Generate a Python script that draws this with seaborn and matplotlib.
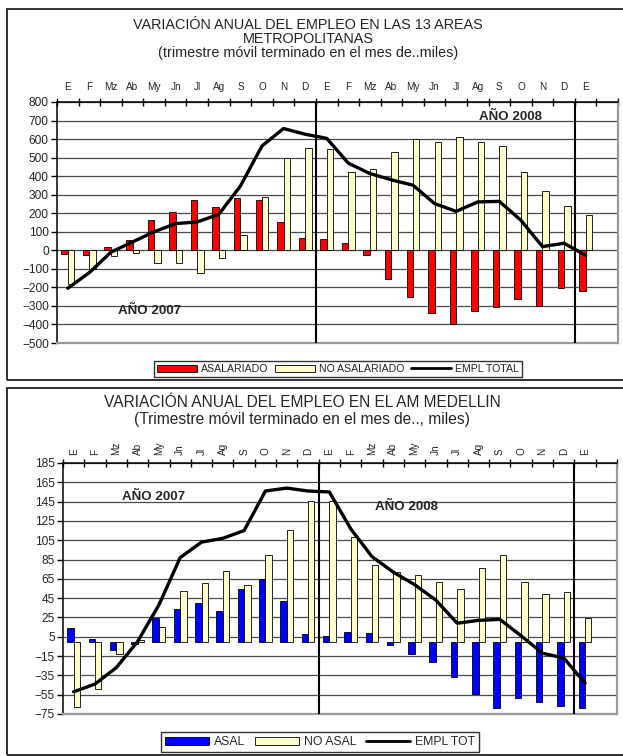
import matplotlib
matplotlib.use("Agg")
import matplotlib.pyplot as plt
import seaborn as sns
import pandas as pd
import numpy as np
from matplotlib.patches import Rectangle, Patch
from matplotlib.lines import Line2D

# ---------------- data ----------------
months = ["E", "F", "Mz", "Ab", "My", "Jn", "Jl", "Ag", "S", "O", "N", "D",
          "E", "F", "Mz", "Ab", "My", "Jn", "Jl", "Ag", "S", "O", "N", "D", "E"]

# 13 areas metropolitanas (miles)
am13_asal = [-20, -25, 20, 55, 165, 205, 270, 234, 284, 273, 153, 68,
             60, 40, -23, -153, -250, -336, -396, -329, -304, -264, -300, -203, -219]
am13_noasal = [-183, -100, -29, -13, -67, -67, -121, -40, 85, 290, 500, 554,
               545, 425, 441, 532, 601, 586, 610, 586, 563, 425, 318, 237, 189]
am13_total = [-205, -120, -10, 45, 100, 144, 153, 194, 347, 563, 657, 626,
              604, 470, 414, 380, 351, 252, 210, 261, 264, 162, 20, 38, -27]

# AM Medellin (miles)
med_asal = [14, 3, -9, -3, 24, 34, 40, 32, 55, 65, 42, 8,
            6, 10, 9, -4, -13, -21, -37, -54, -69, -58, -63, -67, -69]
med_noasal = [-68, -49, -13, 2, 15, 52, 61, 73, 59, 90, 116, 146,
              146, 108, 79, 72, 69, 62, 55, 76, 90, 62, 49, 51, 24]
med_total = [-52, -44, -27, 0, 38, 87, 103, 107, 115, 156, 159, 156,
             155, 117, 88, 72, 59, 43, 19, 22, 23, 6, -12, -17, -43]

top_names = ["ASALARIADO", "NO ASALARIADO", "EMPL TOTAL"]
bot_names = ["ASAL", "NO ASAL", "EMPL TOT"]
top_title = "VARIACIÓN ANUAL DEL EMPLEO EN LAS 13 AREAS\nMETROPOLITANAS\n(trimestre móvil terminado en el mes de..miles)"
bot_title = "VARIACIÓN ANUAL DEL EMPLEO EN EL AM MEDELLIN\n(Trimestre móvil terminado en el mes de.., miles)"

# ---------------- style ----------------
sns.set_theme(style="white")
plt.rcParams['font.family'] = ['Liberation Sans', 'DejaVu Sans']

W, H = 623, 756
fig = plt.figure(figsize=(W / 100, H / 100), dpi=100)


def fax(l, t, r, b):
    return fig.add_axes([l / W, 1 - b / H, (r - l) / W, (b - t) / H])


def frame(t, b):
    fig.patches.append(Rectangle((7 / W, 1 - b / H), (660 - 7) / W, (b - t) / H,
                                 transform=fig.transFigure, fill=False,
                                 ec="#222222", lw=1.3, zorder=0))


def panel(ax, asal, noasal, total, names, colors, ylim, ystep, rotate, lab_fs):
    n = len(months)
    idx = list(range(n))
    df = pd.DataFrame({"pos": idx * 2,
                       "serie": [names[0]] * n + [names[1]] * n,
                       "valor": list(asal) + list(noasal)})
    ax.set_axisbelow(True)
    ax.yaxis.grid(True, color="#4a4a4a", lw=0.9)
    sns.barplot(data=df, x="pos", y="valor", hue="serie",
                hue_order=names[:2], palette=colors, width=0.6, ax=ax,
                edgecolor="black", linewidth=0.6, legend=False, saturation=1,
                zorder=2)
    sns.lineplot(x=idx, y=total, ax=ax, color="black", lw=2.4,
                 estimator=None, sort=False, zorder=4)
    ax.set_xlim(-0.5, 25.5)
    ax.set_ylim(*ylim)
    ax.set_yticks(np.arange(ylim[0], ylim[1] + 1, ystep))
    ax.set_xlabel("")
    ax.set_ylabel("")
    for s in ["top", "left"]:
        ax.spines[s].set_color("black")
        ax.spines[s].set_linewidth(1.1)
    for s in ["right", "bottom"]:
        ax.spines[s].set_color("#9a9a9a")
        ax.spines[s].set_linewidth(1.6)
    ax.xaxis.tick_top()
    ax.set_xticks(np.arange(-0.5, 26, 1))
    ax.set_xticklabels([])
    ax.set_xticks(idx, minor=True)
    ax.set_xticklabels(months, minor=True, rotation=90 if rotate else 0,
                       fontsize=lab_fs)
    ax.tick_params(axis="x", which="major", direction="inout", length=6,
                   width=1, color="black", top=True, bottom=False)
    ax.tick_params(axis="x", which="minor", length=0, pad=7 if not rotate else 6,
                   top=True, bottom=False)
    ax.tick_params(axis="y", direction="out", length=4, width=1, color="black",
                   labelsize=8.6, left=True, pad=2)
    for xs in (11.5, 23.5):
        ax.axvline(xs, color="black", lw=1.5, zorder=5)


# ---------------- top panel ----------------
frame(9, 380)
ax1 = fax(57, 102, 618, 343)
panel(ax1, am13_asal, am13_noasal, am13_total, top_names,
      ["#FF0000", "#FFFFCC"], (-500, 800), 100, False, 7.2)
fig.text(308 / W, 1 - 39 / H, top_title, ha="center", va="center",
         fontsize=10.4, linespacing=0.98)
ax1.text(20.5, 718, "AÑO 2008", ha="center", va="center",
         fontsize=9.6, fontweight="bold", zorder=6)
ax1.text(3.8, -330, "AÑO 2007", ha="center", va="center",
         fontsize=9.6, fontweight="bold", zorder=6)
h1 = [Patch(fc="#FF0000", ec="black", lw=0.6),
      Patch(fc="#FFFFCC", ec="black", lw=0.6),
      Line2D([], [], color="black", lw=2)]
leg1 = fig.legend(h1, top_names, loc="center", ncol=3,
                  bbox_to_anchor=(338 / W, 1 - 369 / H),
                  fontsize=7.6, frameon=True, fancybox=False, edgecolor="black",
                  handlelength=3.8, handleheight=0.6, handletextpad=0.4,
                  columnspacing=0.6, borderpad=0.3, borderaxespad=0)
leg1.get_frame().set_linewidth(1.0)

# ---------------- bottom panel ----------------
frame(388, 755)
ax2 = fax(63, 463, 617, 714)
panel(ax2, med_asal, med_noasal, med_total, bot_names,
      ["#0000FF", "#FFFFCC"], (-75, 185), 20, True, 7.2)
fig.text(302 / W, 1 - 411 / H, bot_title, ha="center", va="center",
         fontsize=11.2, linespacing=1.1)
ax2.text(3.74, 150, "AÑO 2007", ha="center", va="center",
         fontsize=9.6, fontweight="bold", zorder=6)
ax2.text(15.6, 139.5, "AÑO 2008", ha="center", va="center",
         fontsize=9.6, fontweight="bold", zorder=6)
h2 = [Patch(fc="#0000FF", ec="black", lw=0.6),
      Patch(fc="#FFFFCC", ec="black", lw=0.6),
      Line2D([], [], color="black", lw=2)]
leg2 = fig.legend(h2, bot_names, loc="center", ncol=3,
                  bbox_to_anchor=(320 / W, 1 - 742 / H),
                  fontsize=8.8, frameon=True, fancybox=False, edgecolor="black",
                  handlelength=3.6, handleheight=0.6, handletextpad=0.4,
                  columnspacing=0.8, borderpad=0.3, borderaxespad=0)
leg2.get_frame().set_linewidth(1.0)

fig.savefig("out.png", dpi=100)
